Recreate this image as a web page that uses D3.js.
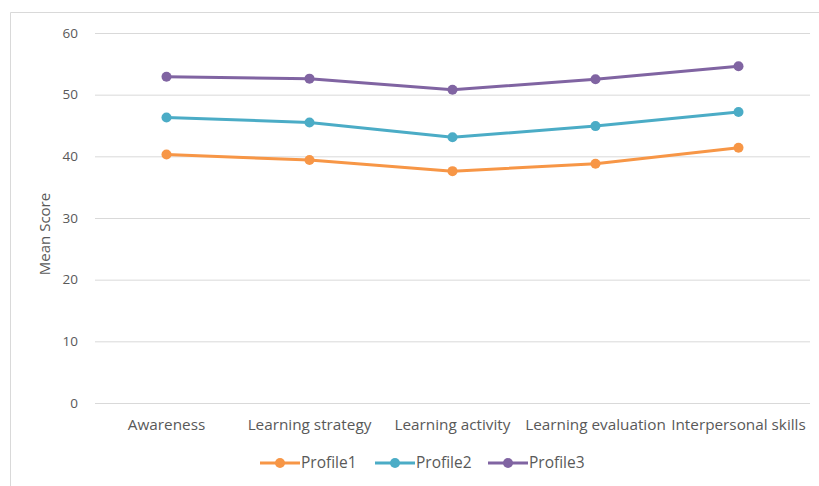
<!DOCTYPE html>
<html>
<head>
<meta charset="utf-8">
<script src="https://cdn.jsdelivr.net/npm/d3@7"></script>
<style>
  html, body { margin: 0; padding: 0; background: #fff; }
  svg { display: block; }
</style>
</head>
<body>
<svg id="chart" width="819" height="486"></svg>
<script>
const categories = ["Awareness", "Learning strategy", "Learning activity", "Learning evaluation", "Interpersonal skills"];
const profile1 = [40.3, 39.4, 37.6, 38.8, 41.4];
const profile2 = [46.3, 45.5, 43.1, 44.9, 47.2];
const profile3 = [52.9, 52.6, 50.8, 52.5, 54.6];
const seriesNames = ["Profile1", "Profile2", "Profile3"];
const seriesColors = ["#F79646", "#4BACC6", "#8064A2"];
const yTicks = [0, 10, 20, 30, 40, 50, 60];

const series = [profile1, profile2, profile3].map((vals, i) => ({
  name: seriesNames[i], color: seriesColors[i], values: vals
}));

const svg = d3.select("#chart");
const font = "'Open Sans', 'Liberation Sans', Arial, sans-serif";

// chart border (left + top visible)
svg.append("path")
  .attr("d", "M10.5,486 L10.5,12.5 L819,12.5")
  .attr("fill", "none").attr("stroke", "#d9d9d9").attr("stroke-width", 1);

const x = d3.scaleBand().domain(categories).range([95, 810]);
const y = d3.scaleLinear().domain([0, 60]).range([403, 33]);

// gridlines
const gy = svg.append("g").attr("transform", "translate(95,0)")
  .call(d3.axisLeft(y).tickValues(yTicks).tickSize(-715).tickPadding(17).tickFormat(d3.format("d")));
gy.select(".domain").remove();
gy.selectAll(".tick line").attr("stroke", "#d9d9d9").attr("stroke-width", 1);
gy.selectAll(".tick text").attr("fill", "#595959").attr("font-family", font).attr("font-size", 13.5);

// x axis labels
const gx = svg.append("g").attr("transform", "translate(0,403)")
  .call(d3.axisBottom(x).tickSize(0).tickPadding(16));
gx.select(".domain").remove();
gx.selectAll(".tick text").attr("fill", "#595959").attr("font-family", font).attr("font-size", 15.3);

// y title
svg.append("text")
  .attr("transform", "translate(50,234) rotate(-90)")
  .attr("text-anchor", "middle")
  .attr("fill", "#595959")
  .attr("font-family", font)
  .attr("font-size", 15)
  .text("Mean Score");

const line = d3.line()
  .x((d, i) => x(categories[i]) + x.bandwidth() / 2)
  .y(d => y(d));

series.forEach(s => {
  svg.append("path").datum(s.values)
    .attr("d", line).attr("fill", "none")
    .attr("stroke", s.color).attr("stroke-width", 3)
    .attr("stroke-linejoin", "round");
  svg.append("g").selectAll("circle").data(s.values).join("circle")
    .attr("cx", (d, i) => x(categories[i]) + x.bandwidth() / 2)
    .attr("cy", d => y(d))
    .attr("r", 5)
    .attr("fill", s.color);
});

// legend
const legendX = [260, 375, 488];
const ly = 463;
series.forEach((s, i) => {
  const g = svg.append("g").attr("transform", `translate(${legendX[i]},${ly})`);
  g.append("line").attr("x1", 0).attr("x2", 40).attr("y1", 0).attr("y2", 0)
    .attr("stroke", s.color).attr("stroke-width", 3);
  g.append("circle").attr("cx", 20).attr("cy", 0).attr("r", 5).attr("fill", s.color);
  g.append("text").attr("x", 41).attr("y", 0).attr("dy", "0.35em")
    .attr("fill", "#595959").attr("font-family", font).attr("font-size", 15.5)
    .text(s.name);
});
</script>
</body>
</html>
